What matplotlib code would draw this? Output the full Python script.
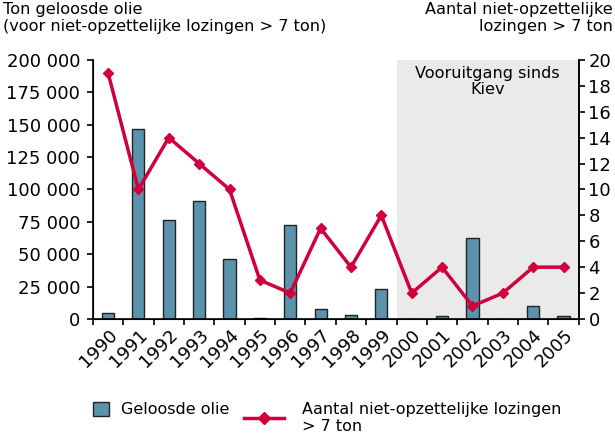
import matplotlib
matplotlib.use("Agg")
import matplotlib.pyplot as plt
import numpy as np
from matplotlib.patches import Patch
from matplotlib.lines import Line2D

years = [str(y) for y in range(1990, 2006)]
oil_tons = [4600, 147000, 76500, 91000, 46500, 500, 72500, 7700, 3000, 23000,
            300, 2500, 62500, 300, 10000, 2000]
spills = [19, 10, 14, 12, 10, 3, 2, 7, 4, 8, 2, 4, 1, 2, 4, 4]
left_ticks = [0, 25000, 50000, 75000, 100000, 125000, 150000, 175000, 200000]
right_ticks = list(range(0, 21, 2))

bar_color = "#5a93ab"
line_color = "#d0003c"

plt.rcParams['font.family'] = ['DejaVu Sans']
fig = plt.figure(figsize=(6.15, 4.34), dpi=100)
ax = fig.add_axes([0.151, 0.265, 0.79, 0.597])
x = np.arange(len(years))

ax.axvspan(9.5, 15.5, color="#eaeaea", zorder=0, lw=0)
ax.bar(x, oil_tons, width=0.4, color=bar_color, edgecolor="#222222", linewidth=1.0, zorder=2)
ax.set_xlim(-0.5, 15.5)
ax.set_ylim(0, 200000)
ax.set_yticks(left_ticks)
ax.set_yticklabels([f"{v:,}".replace(",", " ") for v in left_ticks], fontsize=13)
ax.set_xticks(x)
ax.set_xticklabels(years, rotation=45, ha="right", rotation_mode="anchor", fontsize=13)
ax.tick_params(axis="x", length=0, pad=5)
ax.set_xticks(np.arange(-0.5, 16, 1), minor=True)
ax.tick_params(axis="x", which="minor", length=4, width=1.2, direction="out")
ax.tick_params(axis="y", length=4, width=1.2, direction="out", pad=5)
ax.spines["top"].set_visible(False)
for s in ["left", "bottom", "right"]:
    ax.spines[s].set_linewidth(1.2)

ax2 = ax.twinx()
ax2.plot(x, spills, color=line_color, lw=2.5, marker="D", markersize=5, zorder=3)
ax2.set_ylim(0, 20)
ax2.set_yticks(right_ticks)
ax2.set_yticklabels([str(v) for v in right_ticks], fontsize=13)
ax2.tick_params(axis="y", length=4, width=1.2, direction="out", pad=3)
ax2.spines["top"].set_visible(False)
ax2.spines["right"].set_linewidth(1.2)

ax.text(12.5, 195500, "Vooruitgang sinds\nKiev", ha="center", va="top", fontsize=11.6, linespacing=1.1)

fig.text(0.005, 0.995, "Ton geloosde olie\n(voor niet-opzettelijke lozingen > 7 ton)",
         ha="left", va="top", fontsize=11.6, linespacing=1.15)
fig.text(0.997, 0.995, "Aantal niet-opzettelijke\nlozingen > 7 ton",
         ha="right", va="top", fontsize=11.6, linespacing=1.15)

leg1 = fig.legend([Patch(facecolor=bar_color, edgecolor="#222222", linewidth=1.0)],
                  ["Geloosde olie"], loc="upper left", bbox_to_anchor=(0.152, 0.074),
                  frameon=False, fontsize=11.5, handlelength=0.95, handleheight=0.95,
                  handletextpad=0.8, borderpad=0, borderaxespad=0)
fig.legend([Line2D([0], [0], color=line_color, lw=2.5, marker="D", markersize=6)],
           ["Aantal niet-opzettelijke lozingen\n> 7 ton"], loc="upper left",
           bbox_to_anchor=(0.397, 0.074), frameon=False, fontsize=11.5,
           handlelength=2.5, handletextpad=1.1, borderpad=0, borderaxespad=0)

fig.savefig("out.png", dpi=100)
